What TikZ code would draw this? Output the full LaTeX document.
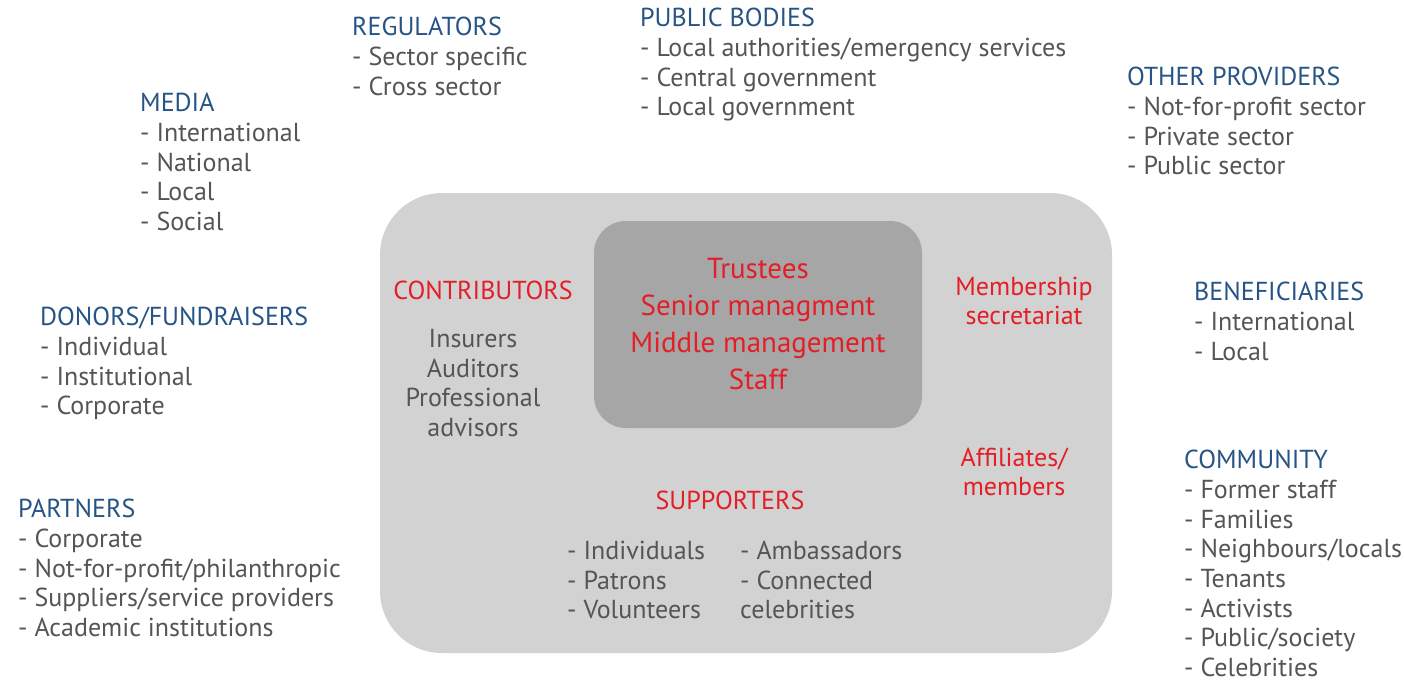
\documentclass[tikz,border=0pt]{standalone}
\usepackage{fontspec}
\setmainfont{PT Sans}
\definecolor{hblue}{RGB}{38,84,134}
\definecolor{tgray}{RGB}{85,85,85}
\definecolor{tred}{RGB}{228,30,38}
\definecolor{outerfill}{RGB}{210,210,210}
\definecolor{innerfill}{RGB}{166,166,166}
\newcommand{\hd}[1]{{\color{hblue}#1}}
\newcommand{\topr}{\rule{0pt}{19.5pt}}
\tikzset{
  block/.style={anchor=north west, inner sep=0pt, align=left, text=tgray,
    font=\fontsize{26}{29.7}\selectfont},
  redlbl/.style={inner sep=0pt, align=center, text=tred,
    font=\fontsize{26}{29.7}\selectfont},
  graylbl/.style={inner sep=0pt, align=center, text=tgray,
    font=\fontsize{26}{29.5}\selectfont},
  corelbl/.style={inner sep=0pt, align=center, text=tred,
    font=\fontsize{29}{37.3}\selectfont},
  suplist/.style={anchor=north west, inner sep=0pt, align=left, text=tgray,
    font=\fontsize{26}{29.5}\selectfont},
}
\begin{document}
\begin{tikzpicture}[x=1pt,y=-1pt]
\useasboundingbox (0,0) rectangle (1404,681);
% boxes
\fill[outerfill, rounded corners=62pt] (380,193) rectangle (1112,653);
\fill[innerfill, rounded corners=32pt] (594,221) rectangle (922,428);
% outside blocks
\node[block] (reg) at (352,16) {\topr\hd{REGULATORS}\\- Sector specific\\- Cross sector};
\node[block] (pub) at (640,7) {\topr\hd{PUBLIC BODIES}\\- Local authorities/emergency services\\- Central government\\- Local government};
\node[block] (oth) at (1127,66) {\topr\hd{OTHER PROVIDERS}\\- Not-for-profit sector\\- Private sector\\- Public sector};
\node[block] (med) at (140,92) {\topr\hd{MEDIA}\\- International\\- National\\- Local\\- Social};
\node[block] (don) at (40,306) {\topr\hd{DONORS/FUNDRAISERS}\\- Individual\\- Institutional\\- Corporate};
\node[block] (par) at (18,498) {\topr\hd{PARTNERS}\\- Corporate\\- Not-for-profit/philanthropic\\- Suppliers/service providers\\- Academic institutions};
\node[block] (ben) at (1194,281) {\topr\hd{BENEFICIARIES}\\- International\\- Local};
\node[block] (com) at (1184,449) {\topr\hd{COMMUNITY}\\- Former staff\\- Families\\- Neighbours/locals\\- Tenants\\- Activists\\- Public/society\\- Celebrities};
% inside
\node[redlbl] (contr) at (483,290) {CONTRIBUTORS};
\node[graylbl, anchor=north] (contrl) at (473,328) {\topr Insurers\\Auditors\\Professional\\advisors};
\node[corelbl] (core) at (758,324) {Trustees\\Senior managment\\Middle management\\Staff};
\node[redlbl] (memb) at (1024,301) {Membership\\secretariat};
\node[redlbl] (aff) at (1014,472) {Affiliates/\\members};
\node[redlbl] (sup) at (730,500) {SUPPORTERS};
\node[suplist] (supa) at (567,540) {\topr- Individuals\\- Patrons\\- Volunteers};
\node[suplist] (supb) at (740,540) {\topr- Ambassadors\\- Connected\\celebrities};
\end{tikzpicture}
\end{document}
